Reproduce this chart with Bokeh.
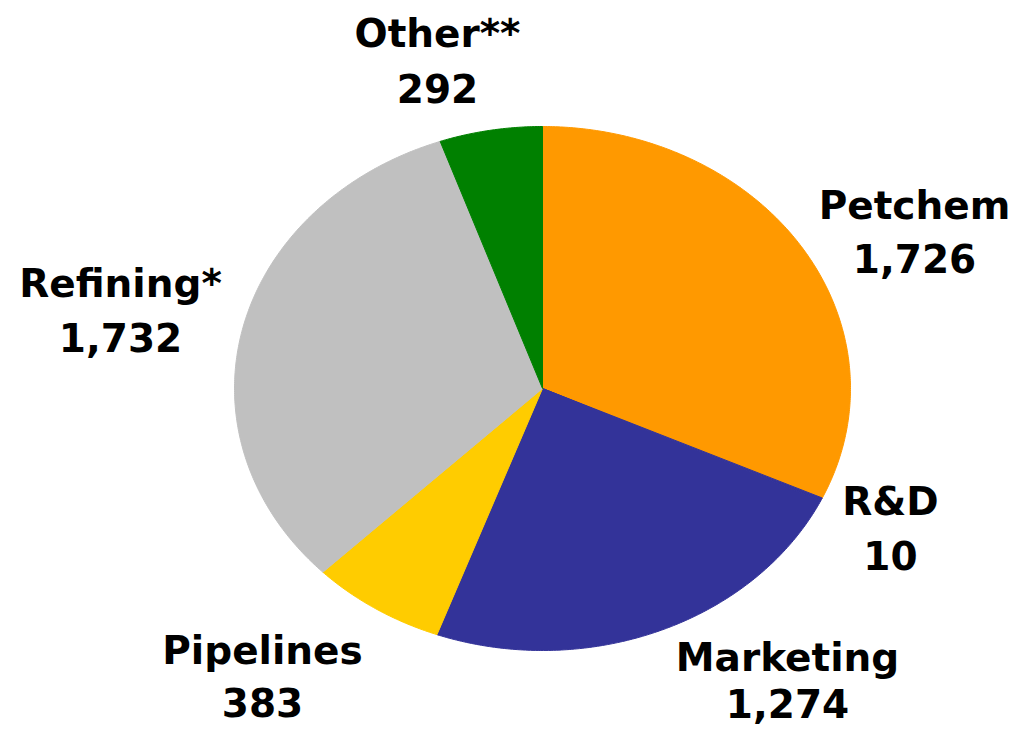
import numpy as np
from bokeh.plotting import figure
from bokeh.models import Range1d, ColumnDataSource
from bokeh.core.properties import value
from bokeh.embed import file_html
from bokeh.resources import INLINE

# Data
categories = ["Petchem", "R&D", "Marketing", "Pipelines", "Refining*", "Other**"]
values = [1726, 10, 1274, 383, 1732, 292]
value_labels = ["1,726", "10", "1,274", "383", "1,732", "292"]
colors = ["#FF9900", "#333399", "#333399", "#FFCC00", "#C0C0C0", "#008000"]

# Layout (pixel-like coordinates, y measured from top of canvas)
W, H = 1012, 728
CX, CY = 542, 388
RX, RY = 308, 262
name_pos = [(914, 205), (890, 501), (787, 657), (262, 650), (120, 283), (437, 33)]
val_pos = [(914, 258), (890, 555), (787, 703), (262, 702), (120, 337), (437, 88)]

p = figure(width=W, height=H, output_backend="svg", toolbar_location=None,
           x_range=Range1d(0, W), y_range=Range1d(0, H),
           min_border=0, outline_line_color=None)
p.axis.visible = False
p.grid.visible = False
p.background_fill_color = "white"
p.border_fill_color = "white"

def fy(y):
    return H - y

total = float(sum(values))
start = np.pi / 2
xs, ys = [], []
for v in values:
    sweep = 2 * np.pi * v / total
    t = np.linspace(start, start - sweep, max(3, int(sweep * 120)))
    px = np.concatenate([[CX], CX + RX * np.cos(t)])
    py = np.concatenate([[fy(CY)], fy(CY) + RY * np.sin(t)])
    xs.append(px.tolist())
    ys.append(py.tolist())
    start -= sweep

src = ColumnDataSource(dict(xs=xs, ys=ys, color=colors))
p.patches("xs", "ys", source=src, fill_color="color", line_color="color", line_width=1)

lab = ColumnDataSource(dict(
    x=[q[0] for q in name_pos], y=[fy(q[1]) for q in name_pos], text=categories))
val = ColumnDataSource(dict(
    x=[q[0] for q in val_pos], y=[fy(q[1]) for q in val_pos], text=value_labels))
for s in (lab, val):
    p.text("x", "y", text="text", source=s, text_font=value("DejaVu Sans"),
           text_font_style="bold", text_font_size="39px", text_color="black",
           text_align="center", text_baseline="middle")

open("out.html", "w").write(file_html(p, INLINE))
